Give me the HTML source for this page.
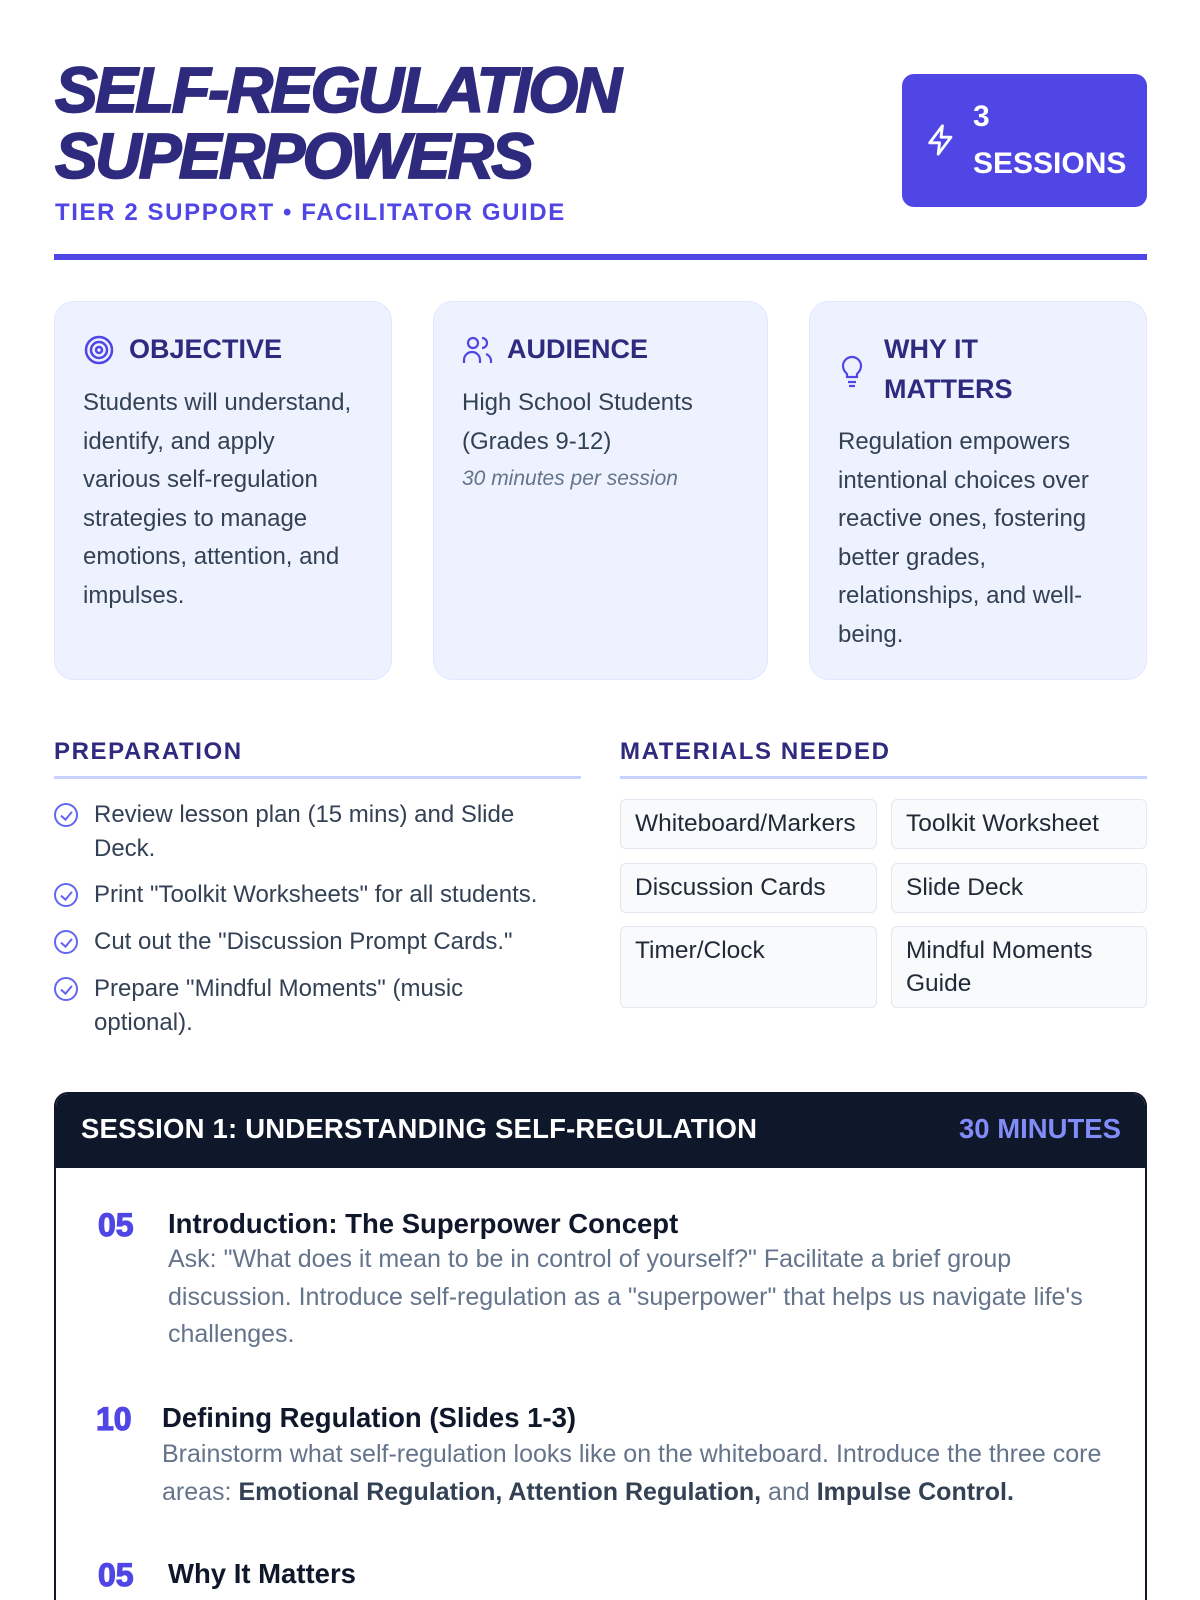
<!DOCTYPE html>
<html><head><meta charset="utf-8">
<style>
*{margin:0;padding:0;box-sizing:border-box}
html,body{width:1200px;height:1600px;overflow:hidden;background:#fff}
body{font-family:"Liberation Sans",sans-serif;color:#1f2937}
#w{position:relative;width:1200px;height:1600px;overflow:hidden}
.a{position:absolute}
.title{left:55px;font-size:64px;font-weight:900;font-style:italic;color:#2e2a7e;letter-spacing:-2.6px;line-height:1;-webkit-text-stroke:1.8px #2e2a7e;white-space:nowrap}
.sub{left:55px;top:199px;font-size:24px;font-weight:bold;color:#4f46e5;letter-spacing:1.6px;white-space:nowrap}
.badge{left:902px;top:74px;width:245px;height:133px;background:#4f46e5;border-radius:12px;color:#fff}
.rule{left:54px;top:254px;width:1093px;height:6px;background:#4f46e5}
.card{top:301px;height:379px;background:#eef2ff;border:1.5px solid #e0e7ff;border-radius:20px}
.ch{font-size:27px;font-weight:bold;color:#2e2a7e;line-height:40px}
.cb{font-size:24px;line-height:38.5px;color:#334155}
.sh{font-size:24px;font-weight:bold;color:#2e2a7e;letter-spacing:1.6px}
.hr{height:3px;background:#c7d2fe}
.li{left:54px;font-size:24px;line-height:33.5px;color:#334155;padding-left:40px;width:512px}
.chk{position:absolute;left:0;top:5px;width:24px;height:24px;border:2px solid #6366f1;border-radius:50%}
.chk:after{content:"";position:absolute;left:7px;top:4px;width:5px;height:9px;border:solid #6366f1;border-width:0 2px 2px 0;transform:rotate(40deg)}
.m{background:#f8fafc;border:1.5px solid #e2e8f0;border-radius:6px;font-size:24.5px;line-height:33px;color:#1f2937;padding:7px 14px;white-space:normal}
.num{font-size:32px;font-weight:900;color:#4f46e5;-webkit-text-stroke:1.2px #4f46e5}
.it{font-size:27.5px;font-weight:bold;color:#0f172a}
.ds{font-size:25px;line-height:37.5px;color:#64748b}
.ds b{color:#334155}
</style></head><body><div id="w">
<div class="a title" style="top:58px">SELF-REGULATION</div>
<div class="a title" style="top:124px">SUPERPOWERS</div>
<div class="a sub">TIER 2 SUPPORT • FACILITATOR GUIDE</div>
<div class="a badge">
<svg class="a" style="left:22px;top:49px" width="34" height="34" viewBox="0 0 24 24" fill="none" stroke="#fff" stroke-width="2" stroke-linejoin="round"><path d="M13 2 4 14h7l-1 8 9-12h-7z"/></svg>
<div class="a" style="left:71px;top:19px;font-size:30px;font-weight:bold;line-height:47px">3<br>SESSIONS</div>
</div>
<div class="a rule"></div>

<div class="a card" style="left:54px;width:338px">
<svg class="a" style="left:28px;top:32px" width="32" height="32" viewBox="0 0 32 32" fill="none" stroke="#4f46e5" stroke-width="2.5"><circle cx="16" cy="16" r="13"/><circle cx="16" cy="16" r="8"/><circle cx="16" cy="16" r="3"/></svg>
<div class="a ch" style="left:74px;top:27px">OBJECTIVE</div>
<div class="a cb" style="left:28px;top:82px;width:270px">Students will understand, identify, and apply various self-regulation strategies to manage emotions, attention, and impulses.</div>
</div>
<div class="a card" style="left:433px;width:335px">
<svg class="a" style="left:28px;top:33px" width="32" height="30" viewBox="0 0 32 30" fill="none" stroke="#4f46e5" stroke-width="2.2"><circle cx="11" cy="8" r="5"/><path d="M2 28v-3a8 8 0 0 1 16 0v3"/><path d="M20 3a5 5 0 0 1 0 10M24 19a8 8 0 0 1 5 6v3"/></svg>
<div class="a ch" style="left:73px;top:27px">AUDIENCE</div>
<div class="a cb" style="left:28px;top:82px;width:292px">High School Students (Grades 9-12)</div>
<div class="a" style="left:28px;top:165px;font-size:21px;font-style:italic;color:#64748b">30 minutes per session</div>
</div>
<div class="a card" style="left:809px;width:338px">
<svg class="a" style="left:30px;top:52px" width="24" height="34" viewBox="0 0 24 34" fill="none" stroke="#4f46e5" stroke-width="2.2"><path d="M7 20c-3-3-4-5-4-8a9 9 0 0 1 18 0c0 3-1 5-4 8v3H7z"/><path d="M8 28h8M9 32h6"/></svg>
<div class="a ch" style="left:74px;top:27px">WHY IT<br>MATTERS</div>
<div class="a cb" style="left:28px;top:121px;width:276px">Regulation empowers intentional choices over reactive ones, fostering better grades, relationships, and well-being.</div>
</div>

<div class="a sh" style="left:54px;top:738px">PREPARATION</div>
<div class="a hr" style="left:54px;top:776px;width:527px"></div>
<div class="a sh" style="left:620px;top:738px">MATERIALS NEEDED</div>
<div class="a hr" style="left:620px;top:776px;width:527px"></div>

<div class="a li" style="top:798px"><span class="chk"></span>Review lesson plan (15 mins) and Slide Deck.</div>
<div class="a li" style="top:878px"><span class="chk"></span>Print "Toolkit Worksheets" for all students.</div>
<div class="a li" style="top:925px"><span class="chk"></span>Cut out the "Discussion Prompt Cards."</div>
<div class="a li" style="top:972px"><span class="chk"></span>Prepare "Mindful Moments" (music optional).</div>

<div class="a m" style="left:620px;top:799px;width:257px;height:50px">Whiteboard/Markers</div>
<div class="a m" style="left:891px;top:799px;width:256px;height:50px">Toolkit Worksheet</div>
<div class="a m" style="left:620px;top:863px;width:257px;height:50px">Discussion Cards</div>
<div class="a m" style="left:891px;top:863px;width:256px;height:50px">Slide Deck</div>
<div class="a m" style="left:620px;top:926px;width:257px;height:82px">Timer/Clock</div>
<div class="a m" style="left:891px;top:926px;width:256px;height:82px">Mindful Moments Guide</div>

<div class="a" style="left:54px;top:1092px;width:1093px;height:560px;border:2.5px solid #0f172a;border-radius:14px;overflow:hidden">
<div style="height:74px;background:#0f172a;position:relative">
<div class="a" style="left:25px;top:19px;font-size:27.5px;font-weight:bold;color:#fff;letter-spacing:0.2px">SESSION 1: UNDERSTANDING SELF-REGULATION</div>
<div class="a" style="right:24px;top:19px;font-size:27.5px;font-weight:bold;color:#818cf8">30 MINUTES</div>
</div>
</div>
<div class="a num" style="left:98px;top:1207px">05</div>
<div class="a it" style="left:168px;top:1208px">Introduction: The Superpower Concept</div>
<div class="a ds" style="left:168px;top:1241px;width:935px">Ask: "What does it mean to be in control of yourself?" Facilitate a brief group discussion. Introduce self-regulation as a "superpower" that helps us navigate life's challenges.</div>
<div class="a num" style="left:96px;top:1401px">10</div>
<div class="a it" style="left:162px;top:1402px">Defining Regulation (Slides 1-3)</div>
<div class="a ds" style="left:162px;top:1436px;width:955px">Brainstorm what self-regulation looks like on the whiteboard. Introduce the three core areas: <b>Emotional Regulation, Attention Regulation,</b> and <b>Impulse Control.</b></div>
<div class="a num" style="left:98px;top:1557px">05</div>
<div class="a it" style="left:168px;top:1558px">Why It Matters</div>
<div class="a ds" style="left:168px;top:1593px;width:960px;font-style:italic">Discuss real-life scenarios where lacking self-control leads to conflict.</div>
</div></body></html>
